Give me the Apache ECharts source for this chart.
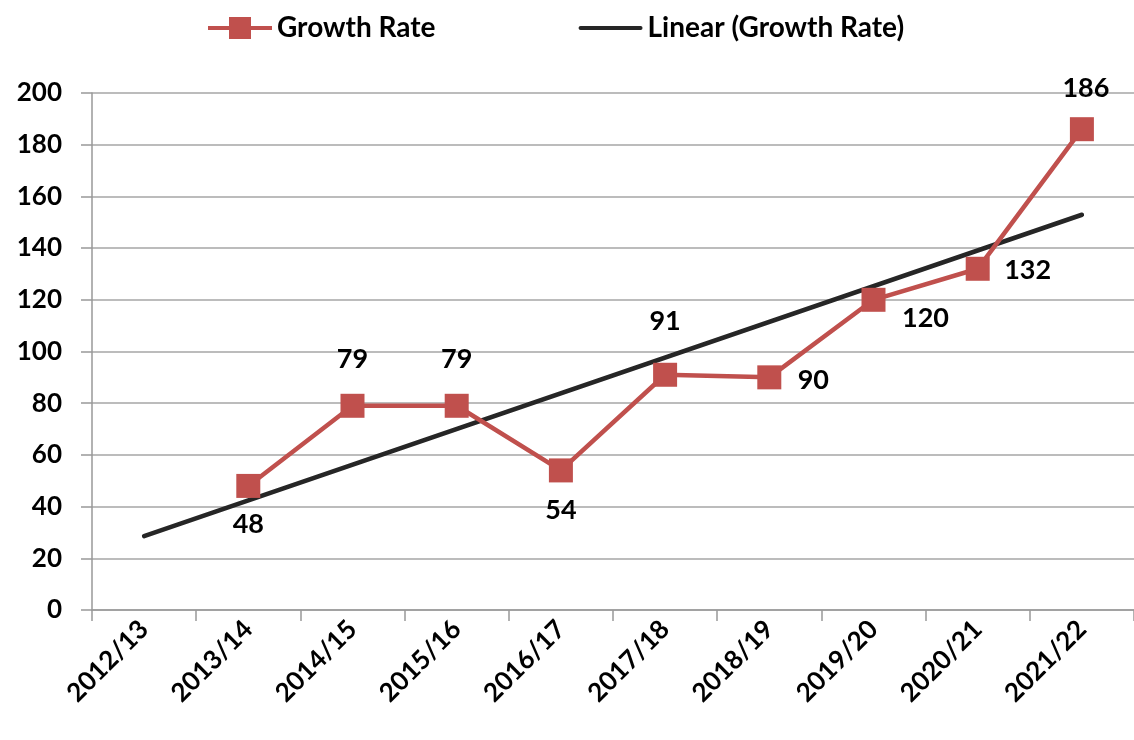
<!DOCTYPE html>
<html><head><meta charset="utf-8">
<script src="https://cdn.jsdelivr.net/npm/echarts@6/dist/echarts.min.js"></script>
<style>html,body{margin:0;padding:0;background:#fff}#c{width:1134px;height:740px}</style>
</head><body><div id="c"></div>
<script>
const categories = ['2012/13','2013/14','2014/15','2015/16','2016/17','2017/18','2018/19','2019/20','2020/21','2021/22'];
const growthRate = [null, 48, 79, 79, 54, 91, 90, 120, 132, 186];
const trendline = [28.6, null, null, null, null, null, null, null, null, 152.9];
const yTicks = [0, 20, 40, 60, 80, 100, 120, 140, 160, 180, 200];

// label placement (style only): center offsets relative to marker
const labelOffsets = [null,[0,38],[0,-46],[0,-46],[0,40],[0,-53],[44,3],[52,18],[50,2],[4,-41]];

const FONT = 'Lato, "Open Sans", sans-serif';
const chart = echarts.init(document.getElementById('c'), null, {renderer:'canvas'});
chart.setOption({
  animation:false,
  textStyle:{fontFamily:FONT},
  grid:{left:92, right:0, top:93, bottom:130, containLabel:false},
  legend:{
    top:9, left:203, itemGap:143, itemWidth:64, itemHeight:22,
    textStyle:{fontFamily:FONT, fontWeight:'bold', fontSize:28, color:'#000'},
    data:[
      {name:'Growth Rate', icon:'path://M0,9 L21,9 L21,0 L43,0 L43,9 L64,9 L64,13 L43,13 L43,22 L21,22 L21,13 L0,13 Z'},
      {name:'Linear (Growth Rate)', icon:'path://M2,9 L62,9 A2,2 0 0 1 62,13 L2,13 A2,2 0 0 1 2,9 Z'}
    ]
  },
  xAxis:{
    type:'category', data:categories, boundaryGap:true,
    axisLine:{lineStyle:{color:'#999', width:1.5}},
    axisTick:{show:true, length:11, lineStyle:{color:'#999', width:1.5}},
    axisLabel:{rotate:45, margin:15, fontFamily:FONT, fontWeight:'bold', fontSize:26, color:'#000'},
    splitLine:{show:false}
  },
  yAxis:{
    type:'value', min:yTicks[0], max:yTicks[yTicks.length-1], interval:20,
    axisLine:{show:true, lineStyle:{color:'#999', width:1.5}},
    axisTick:{show:true, length:11, lineStyle:{color:'#999', width:1.5}},
    axisLabel:{margin:30, fontFamily:FONT, fontWeight:'bold', fontSize:26, color:'#000'},
    splitLine:{lineStyle:{color:'#a6a6a6', width:1.5}}
  },
  series:[
    {
      name:'Linear (Growth Rate)', type:'line', data:trendline, connectNulls:true,
      symbol:'none', z:2,
      lineStyle:{color:'#262626', width:4.5, cap:'round'},
      itemStyle:{color:'#262626'}
    },
    {
      name:'Growth Rate', type:'line', z:3,
      data:growthRate.map((v,i)=>({
        value:v,
        label: labelOffsets[i] ? {offset:labelOffsets[i]} : undefined
      })),
      symbol:'rect', symbolSize:24,
      lineStyle:{color:'#c0504d', width:4.5},
      itemStyle:{color:'#c0504d'},
      label:{show:true, position:'inside', fontFamily:FONT, fontWeight:'bold', fontSize:27, color:'#000'}
    }
  ]
});
</script></body></html>
